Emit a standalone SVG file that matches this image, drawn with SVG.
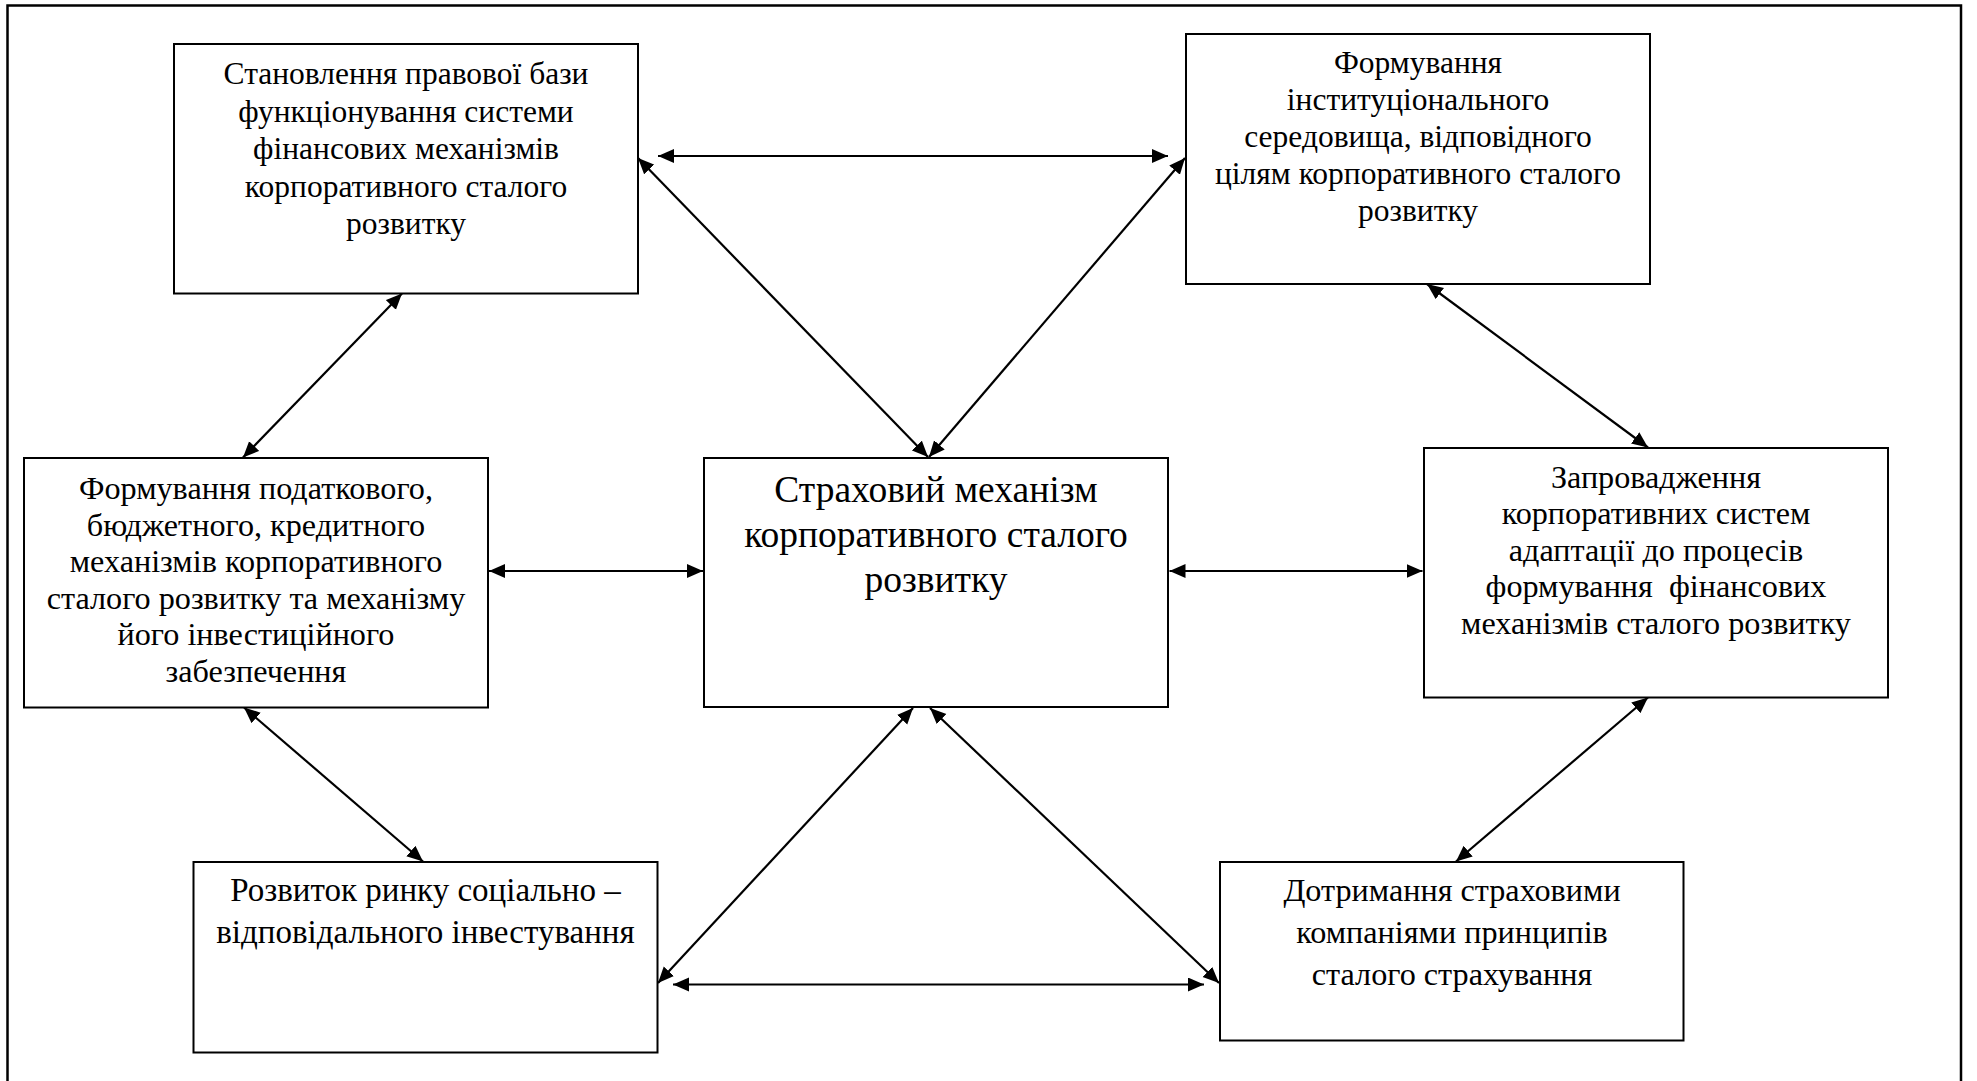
<svg xmlns="http://www.w3.org/2000/svg" width="1977" height="1081" viewBox="0 0 1977 1081">
<style>
.box{fill:#fff;stroke:#000;stroke-width:2}
.t{font-family:"Liberation Serif","Times New Roman",serif;font-size:31.5px;fill:#000;text-anchor:middle}
.t32{font-size:32.2px}
.t33{font-size:33px}
.tc{font-family:"Liberation Serif","Times New Roman",serif;font-size:37.5px;fill:#000;text-anchor:middle}
.c{stroke:#000;stroke-width:2.2;fill:none;marker-start:url(#ah);marker-end:url(#ah)}
</style>
<defs>
<marker id="ah" markerUnits="userSpaceOnUse" markerWidth="17" markerHeight="15" refX="16" refY="7" orient="auto-start-reverse">
<path d="M0,0 L16,7 L0,14 z" fill="#000"/>
</marker>
</defs>
<rect x="7.5" y="5.5" width="1953.5" height="1100" fill="#fff" stroke="#000" stroke-width="2.5"/>
<g id="connectors">
<line class="c" x1="658" y1="156" x2="1168" y2="156"/>
<line class="c" x1="638" y1="158" x2="928" y2="457"/>
<line class="c" x1="1185" y1="158" x2="929" y2="457"/>
<line class="c" x1="402" y1="293.5" x2="243" y2="457.5"/>
<line class="c" x1="1427" y1="284" x2="1648" y2="447.5"/>
<line class="c" x1="489" y1="571" x2="703" y2="571"/>
<line class="c" x1="1169.5" y1="571" x2="1422.5" y2="571"/>
<line class="c" x1="244" y1="707.5" x2="423" y2="861.5"/>
<line class="c" x1="1648" y1="697.5" x2="1456" y2="861.5"/>
<line class="c" x1="913" y1="708" x2="658" y2="983"/>
<line class="c" x1="930" y1="708" x2="1219" y2="983"/>
<line class="c" x1="673" y1="984.5" x2="1204" y2="984.5"/>
</g>
<g id="node-legal">
<rect class="box" x="174" y="44" width="464" height="249.5"/>
<text class="t" x="406" y="84">Становлення правової бази</text>
<text class="t" x="406" y="121.5">функціонування системи</text>
<text class="t" x="406" y="159">фінансових механізмів</text>
<text class="t" x="406" y="196.5">корпоративного сталого</text>
<text class="t" x="406" y="234">розвитку</text>
</g>
<g id="node-institutional">
<rect class="box" x="1186" y="34" width="464" height="250"/>
<text class="t" x="1418" y="73">Формування</text>
<text class="t" x="1418" y="110">інституціонального</text>
<text class="t" x="1418" y="147">середовища, відповідного</text>
<text class="t" x="1418" y="184">цілям корпоративного сталого</text>
<text class="t" x="1418" y="221">розвитку</text>
</g>
<g id="node-tax">
<rect class="box" x="24" y="458" width="464" height="249.5"/>
<text class="t t32" x="256" y="499">Формування податкового,</text>
<text class="t t32" x="256" y="535.5">бюджетного, кредитного</text>
<text class="t t32" x="256" y="572">механізмів корпоративного</text>
<text class="t t32" x="256" y="608.5">сталого розвитку та механізму</text>
<text class="t t32" x="256" y="645">його інвестиційного</text>
<text class="t t32" x="256" y="681.5">забезпечення</text>
</g>
<g id="node-central">
<rect class="box" x="704" y="458" width="464" height="249"/>
<text class="tc" x="936" y="501.5">Страховий механізм</text>
<text class="tc" x="936" y="546.5">корпоративного сталого</text>
<text class="tc" x="936" y="592">розвитку</text>
</g>
<g id="node-adaptation">
<rect class="box" x="1424" y="448" width="464" height="249.5"/>
<text class="t t32" x="1656" y="487.5">Запровадження</text>
<text class="t t32" x="1656" y="524">корпоративних систем</text>
<text class="t t32" x="1656" y="560.5">адаптації до процесів</text>
<text class="t t32" x="1656" y="597" xml:space="preserve">формування  фінансових</text>
<text class="t t32" x="1656" y="633.5">механізмів сталого розвитку</text>
</g>
<g id="node-sri">
<rect class="box" x="193.5" y="862" width="464" height="190.5"/>
<text class="t t33" x="425.5" y="901">Розвиток ринку соціально –</text>
<text class="t t33" x="425.5" y="943">відповідального інвестування</text>
</g>
<g id="node-insurers">
<rect class="box" x="1220" y="862" width="463.5" height="178.5"/>
<text class="t t32" x="1452" y="901">Дотримання страховими</text>
<text class="t t32" x="1452" y="943">компаніями принципів</text>
<text class="t t32" x="1452" y="985">сталого страхування</text>
</g>
</svg>
